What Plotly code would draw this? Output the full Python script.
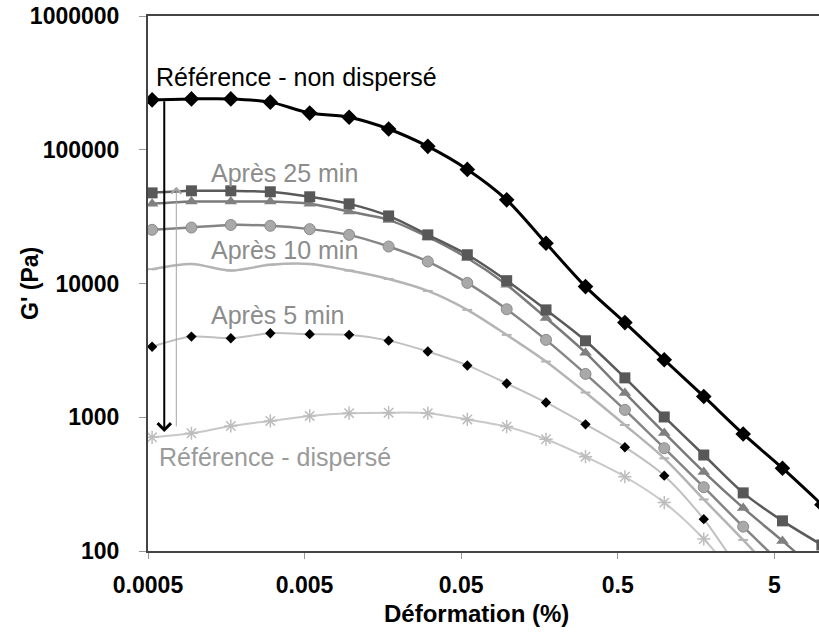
import math
import plotly.graph_objects as go

# ---- data ----
strain = [0.000531, 0.000947, 0.00169, 0.00302, 0.00539, 0.00962, 0.0172, 0.0306,
          0.0547, 0.0976, 0.174, 0.311, 0.555, 0.990, 1.77, 3.16, 5.63, 10.05]

ref_non_disperse = [236000, 240000, 240000, 227000, 188000, 175000, 143000, 106000, 71300,
                    42200, 20000, 9480, 5100, 2690, 1430, 750, 416, 222]
apres_25 = [47600, 49300, 49300, 48500, 44500, 39400, 32000, 23100, 16400,
            10500, 6350, 3730, 1970, 1005, 522, 272, 168, 111]
apres_20 = [39400, 41000, 41000, 41000, 39400, 34500, 29900, 22300, 15500,
            9770, 5530, 3040, 1520, 764, 390, 210, 119, 66]
apres_15 = [25200, 26200, 27400, 27000, 25500, 23100, 18900, 14600, 10100,
            6420, 3790, 2110, 1135, 587, 300, 152, 79, 42]
apres_10 = [12800, 14000, 12500, 13800, 14000, 12500, 10800, 8800, 6350,
            4130, 2610, 1530, 875, 493, 243, 121, 58, 28]
apres_5 = [3370, 4010, 3900, 4250, 4180, 4130, 3740, 3100, 2440,
           1790, 1290, 885, 597, 366, 173, 66, 28, 12]
ref_disperse = [708, 759, 860, 938, 1023, 1072, 1082, 1072, 963,
                851, 685, 507, 359, 230, 123, 55, 25, 10]

x_ticks = [0.0005, 0.005, 0.05, 0.5, 5]
x_ticktext = ["0.0005", "0.005", "0.05", "0.5", "5"]
y_ticks = [100, 1000, 10000, 100000, 1000000]
y_ticktext = ["100", "1000", "10000", "100000", "1000000"]

# arrows (strain, G' tail -> G' head)
arrow_black = (0.000635, 236000, 776)
arrow_gray = (0.000758, 832, 52800)

# ---- figure ----
W, H = 819, 634
ML, MR, MT, MB = 148, 0, 16, 634 - 551
PW, PH = W - ML - MR, H - MT - MB
FONT = "Arial, Liberation Sans, sans-serif"

def paper_x(px):
    return (px - ML) / PW

def paper_y(py):
    return (H - MB - py) / PH

fig = go.Figure()

def add(y, name, line_color, lw, marker):
    fig.add_trace(go.Scatter(
        x=strain, y=y, name=name, mode="lines+markers",
        line=dict(color=line_color, width=lw, shape="spline", smoothing=0.8),
        marker=marker, showlegend=False))

add(ref_disperse, "Référence - dispersé", "#c8c8c8", 2,
    dict(symbol="asterisk-open", size=11, color="#bdbdbd", line=dict(color="#bdbdbd", width=1.5)))
add(apres_5, "Après 5 min", "#c0c0c0", 2,
    dict(symbol="diamond", size=8, color="#000000"))
add(apres_10, "Après 10 min", "#b4b4b4", 2.5,
    dict(symbol="line-ew-open", size=7, color="#b4b4b4", line=dict(color="#b4b4b4", width=2)))
add(apres_15, "Après 15 min", "#858585", 2.5,
    dict(symbol="circle", size=11, color="#a9a9a9", line=dict(color="#8a8a8a", width=1)))
add(apres_20, "Après 20 min", "#7a7a7a", 2.5,
    dict(symbol="triangle-up", size=11, color="#808080"))
add(apres_25, "Après 25 min", "#5a5a5a", 2.5,
    dict(symbol="square", size=11, color="#585858"))
add(ref_non_disperse, "Référence - non dispersé", "#000000", 3,
    dict(symbol="diamond", size=12, color="#000000"))

annotations = []
lx = math.log10
# arrows
annotations.append(dict(x=lx(arrow_black[0]), y=lx(arrow_black[2]), ax=lx(arrow_black[0]), ay=lx(arrow_black[1]),
                        xref="x", yref="y", axref="x", ayref="y", text="", showarrow=True,
                        arrowhead=4, arrowsize=1.3, arrowwidth=2, arrowcolor="#000000"))
annotations.append(dict(x=lx(arrow_gray[0]), y=lx(arrow_gray[2]), ax=lx(arrow_gray[0]), ay=lx(arrow_gray[1]),
                        xref="x", yref="y", axref="x", ayref="y", text="", showarrow=True,
                        arrowhead=4, arrowsize=2, arrowwidth=1, arrowcolor="#a6a6a6"))

def label(text, px, py, color):
    annotations.append(dict(x=paper_x(px), y=paper_y(py), xref="paper", yref="paper",
                            text=text, showarrow=False, xanchor="left", yanchor="middle",
                            font=dict(family=FONT, size=25, color=color)))

label("Référence - non dispersé", 154, 77, "#000000")
label("Après 25 min", 209, 173, "#8c8c8c")
label("Après 10 min", 209, 250, "#8c8c8c")
label("Après 5 min", 209, 315, "#8c8c8c")
label("Référence - dispersé", 157, 457, "#9a9a9a")

# axis titles
annotations.append(dict(x=paper_x(476), y=paper_y(613), xref="paper", yref="paper",
                        text="<b>Déformation (%)</b>", showarrow=False,
                        xanchor="center", yanchor="middle",
                        font=dict(family=FONT, size=24, color="#000000")))
annotations.append(dict(x=paper_x(30), y=paper_y(284), xref="paper", yref="paper",
                        text="<b>G' (Pa)</b>", showarrow=False, textangle=-90,
                        xanchor="center", yanchor="middle",
                        font=dict(family=FONT, size=23, color="#000000")))

x0 = math.log10(0.0005)
dec_px = 156.6
fig.update_layout(
    width=W, height=H, autosize=False,
    margin=dict(l=ML, r=MR, t=MT, b=MB, pad=0),
    paper_bgcolor="white", plot_bgcolor="white",
    annotations=annotations,
    xaxis=dict(type="log", range=[x0, x0 + PW / dec_px],
               tickvals=x_ticks, ticktext=x_ticktext,
               showgrid=False, zeroline=False,
               showline=True, linecolor="#444444", linewidth=2, mirror=True,
               ticks="outside", ticklen=6, tickcolor="#999999", tickwidth=1,
               ticklabelstandoff=6,
               tickfont=dict(family=FONT, size=23, color="#000000", weight="bold")),
    yaxis=dict(type="log", range=[2, 6],
               tickvals=y_ticks, ticktext=y_ticktext,
               showgrid=False, zeroline=False,
               showline=True, linecolor="#444444", linewidth=2, mirror=False,
               ticks="outside", ticklen=7, tickcolor="#999999", tickwidth=1,
               ticklabelstandoff=15, ticklabeloverflow="allow",
               tickfont=dict(family=FONT, size=23, color="#000000", weight="bold")),
)

fig.write_html("out.html", config={"displayModeBar": False},
               post_script="document.body.style.margin='0';")
